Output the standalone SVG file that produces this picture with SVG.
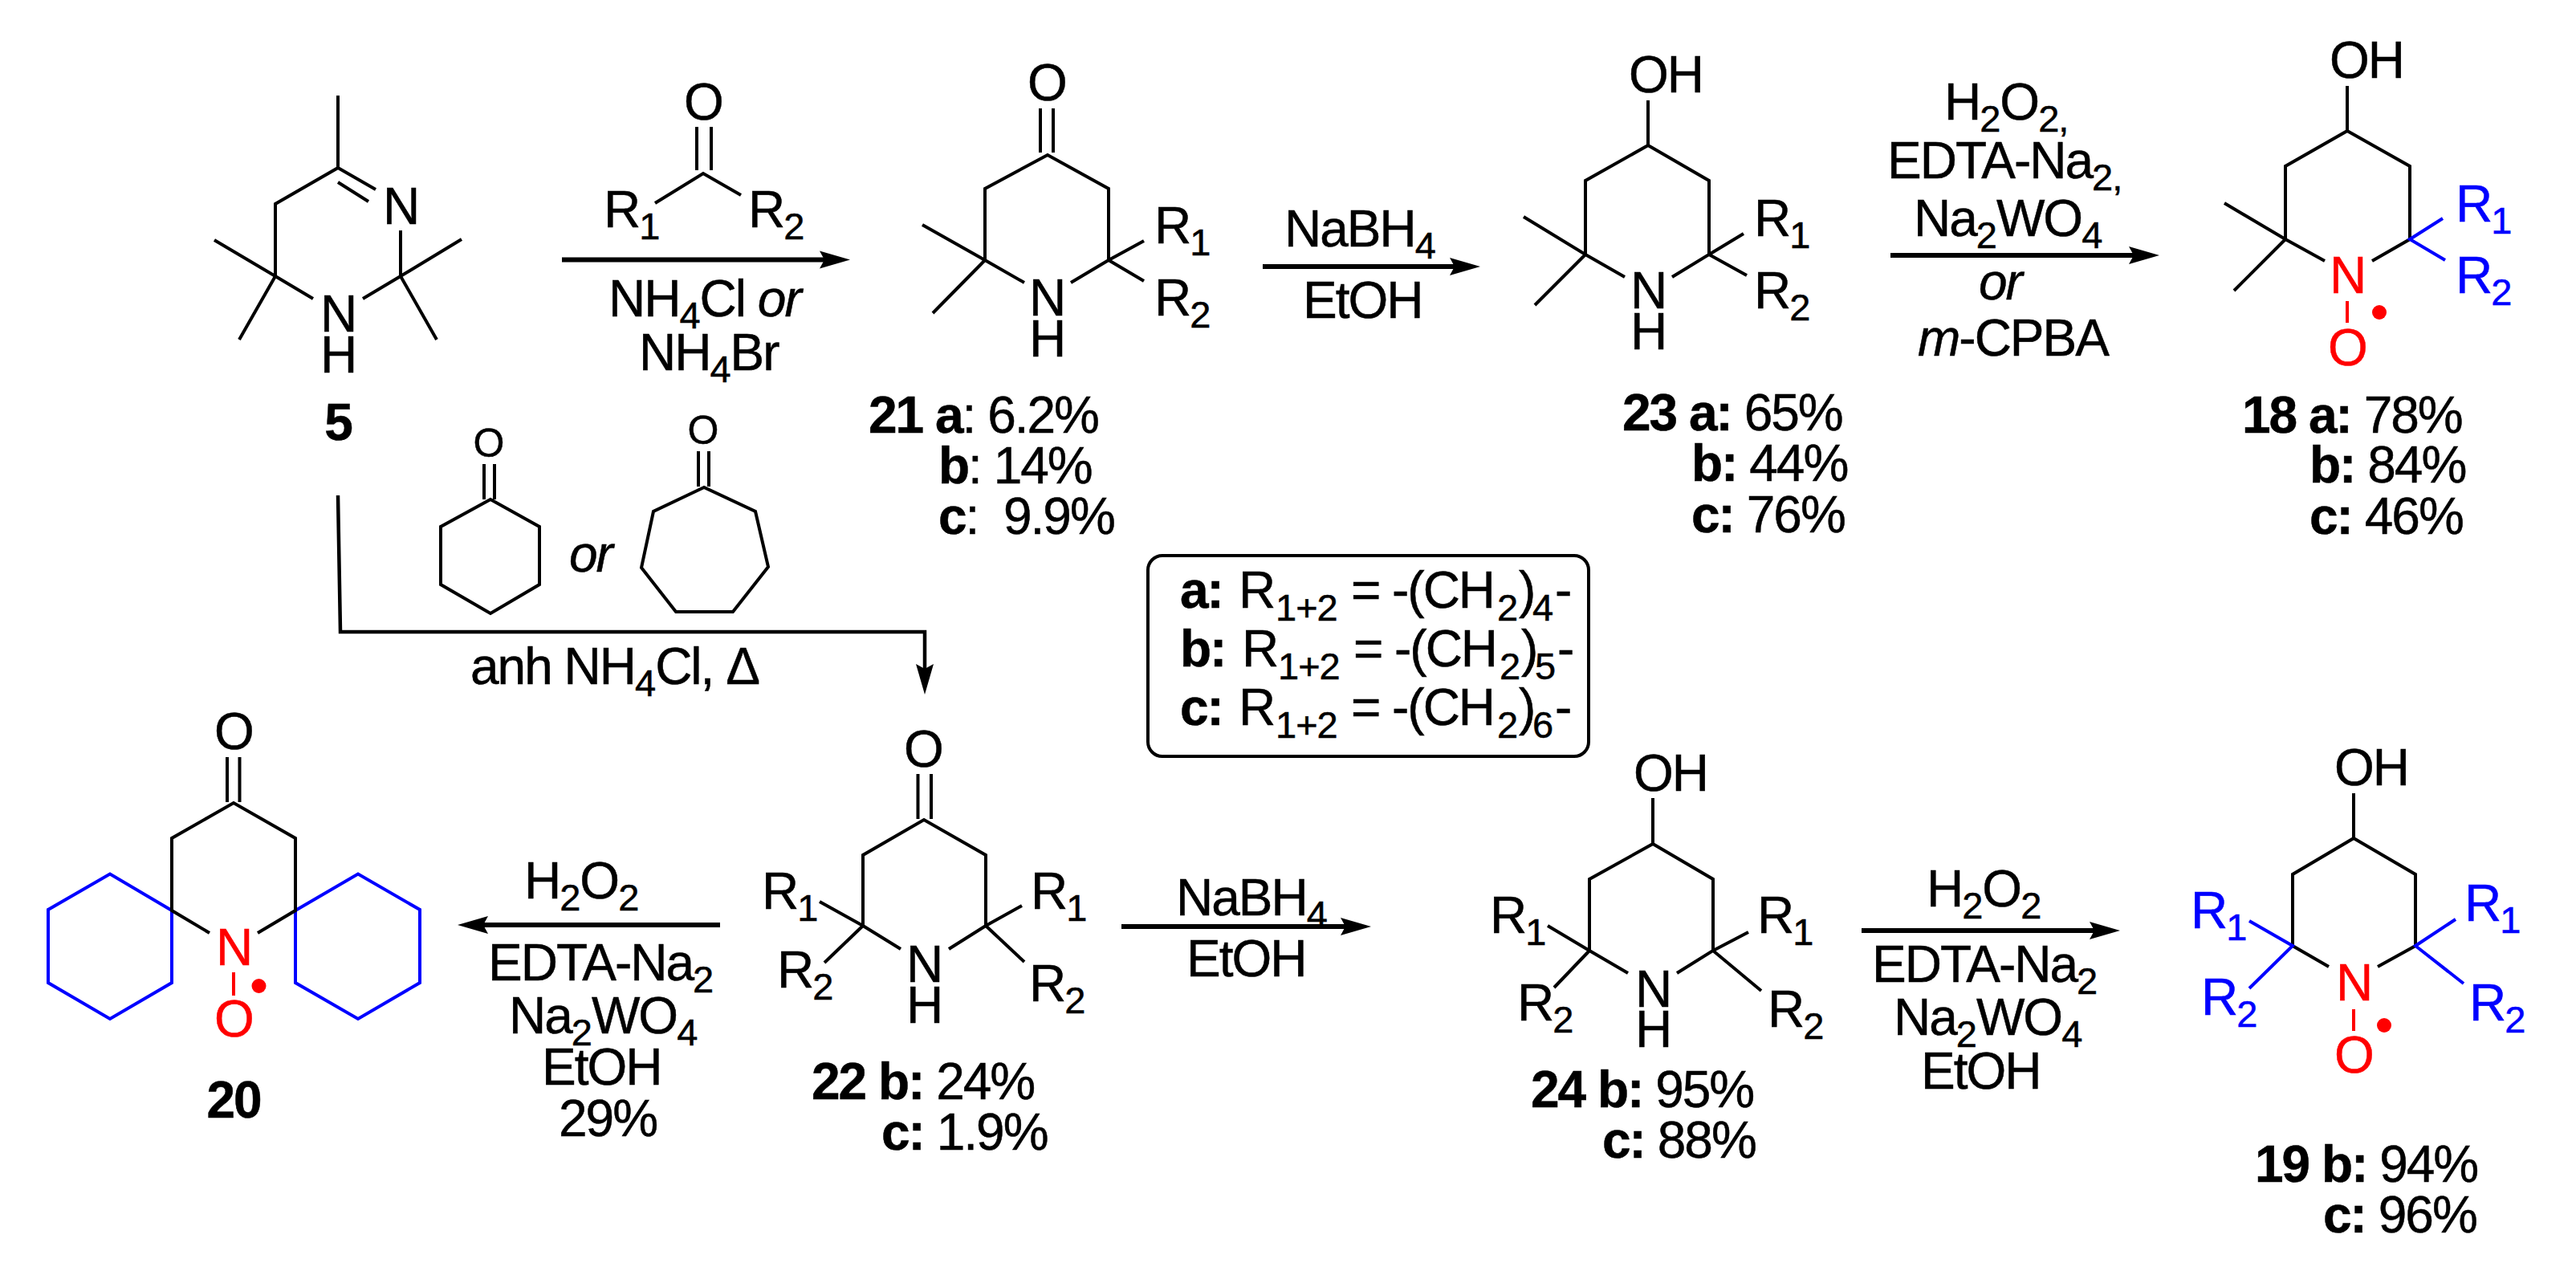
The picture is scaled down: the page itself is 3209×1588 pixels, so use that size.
<svg xmlns="http://www.w3.org/2000/svg" width="3209" height="1588" viewBox="0 0 3209 1588">
<style>
text{font-family:"Liberation Sans",Arial,sans-serif;font-size:64px;letter-spacing:-2px;fill:#000;stroke:#000;stroke-width:.5}
.sm{font-size:50px;letter-spacing:0}
.b{font-weight:bold}
.m{text-anchor:middle}
.s{font-size:47px;letter-spacing:-1px}
.i{font-style:italic}
.blue{fill:#0000ff;stroke:#0000ff}
.red{fill:#ff0000;stroke:#ff0000}
.bd{fill:none;stroke:#000;stroke-width:4;stroke-linejoin:miter;stroke-linecap:butt}
.bb{fill:none;stroke:#0000ff;stroke-width:4}
.br{fill:none;stroke:#ff0000;stroke-width:4}
.ar{fill:none;stroke:#000;stroke-width:6}
.ar2{fill:none;stroke:#000;stroke-width:4.5}
.box{fill:none;stroke:#000;stroke-width:4}
</style>
<defs>
<marker id="h" markerUnits="userSpaceOnUse" viewBox="0 -12 40 24" markerWidth="40" markerHeight="24" refX="6" refY="0" orient="auto"><path d="M0-11L38 0L0 11L6 0z" fill="#000"/></marker>
</defs>
<g id="connectors">
<path class="ar" d="M700 323.500H1027" marker-end="url(#h)"/>
<path class="ar" d="M1573 332H1812" marker-end="url(#h)"/>
<path class="ar" d="M2355 318H2658" marker-end="url(#h)"/>
<path class="ar" d="M897 1152H602" marker-end="url(#h)"/>
<path class="ar" d="M1397 1154H1676" marker-end="url(#h)"/>
<path class="ar" d="M2319 1159H2609" marker-end="url(#h)"/>
<path class="ar2" d="M421 617L424 787H1152V833" marker-end="url(#h)"/>
</g>
<g id="mol-5">
<path class="bd" d="M421 119V209L343 254V344L267 299M343 344L298 423M343 344L390 372M421 209L468 236M421 227L459 251M499 287V344L575 298M499 344L544 423M499 344L452 372"/>
<text class="m" x="499" y="279">N</text>
<text class="m" x="421" y="413">N</text>
<text class="m" x="421" y="464">H</text>
<text class="b m" x="421" y="548">5</text>
</g>
<g id="reagent-ketone">
<path class="bd" d="M868 158V212M886 158V212M816 253L876 216L923 243"/>
<text class="m" x="876" y="149">O</text>
<text x="752" y="283">R<tspan class="s" dy="15">1</tspan></text>
<text x="932" y="283">R<tspan class="s" dy="15">2</tspan></text>
</g>
<g id="reagent-nh4">
<text x="758" y="394">NH<tspan class="s" dy="15">4</tspan><tspan dy="-15">Cl </tspan><tspan class="i">or</tspan></text>
<text x="796" y="461">NH<tspan class="s" dy="15">4</tspan><tspan dy="-15">Br</tspan></text>
</g>
<g id="mol-21">
<path class="bd" d="M1296 135V190M1312 135V190M1227 324V235L1305 193L1381 235V324M1227 324L1149 280M1227 324L1162 390M1227 324L1276 352M1381 324L1334 352M1381 324L1425 300M1381 324L1425 350"/>
<text class="m" x="1304" y="125">O</text>
<text class="m" x="1304" y="393">N</text>
<text class="m" x="1304" y="444">H</text>
<text x="1438" y="303">R<tspan class="s" dy="15">1</tspan></text>
<text x="1438" y="393">R<tspan class="s" dy="15">2</tspan></text>
<text x="1082" y="539"><tspan class="b">21 a</tspan>: 6.2%</text>
<text x="1169" y="602"><tspan class="b">b</tspan>: 14%</text>
<text x="1169" y="665" xml:space="preserve"><tspan class="b">c</tspan>:  9.9%</text>
</g>
<g id="reagent-nabh4-1">
<text x="1600" y="307">NaBH<tspan class="s" dy="15">4</tspan></text>
<text x="1623" y="396">EtOH</text>
</g>
<g id="mol-23">
<path class="bd" d="M2053 125V181L1975 225V317L1898 270M1975 317L1912 380M1975 317L2024 345M2053 181L2129 225V317L2083 345M2129 317L2172 291M2129 317L2176 343"/>
<text class="m" x="2075" y="115">OH</text>
<text class="m" x="2053" y="384">N</text>
<text class="m" x="2053" y="435">H</text>
<text x="2185" y="294">R<tspan class="s" dy="15">1</tspan></text>
<text x="2185" y="384">R<tspan class="s" dy="15">2</tspan></text>
<text x="2021" y="536"><tspan class="b">23 a:</tspan> 65%</text>
<text x="2107" y="599"><tspan class="b">b:</tspan> 44%</text>
<text x="2107" y="663"><tspan class="b">c:</tspan> 76%</text>
</g>
<g id="reagent-oxidant-1">
<text x="2422" y="149">H<tspan class="s" dy="15">2</tspan><tspan dy="-15">O</tspan><tspan class="s" dy="15">2,</tspan></text>
<text x="2351" y="222">EDTA-Na<tspan class="s" dy="15">2,</tspan></text>
<text x="2384" y="294">Na<tspan class="s" dy="15">2</tspan><tspan dy="-15">WO</tspan><tspan class="s" dy="15">4</tspan></text>
<text class="i" x="2465" y="373">or</text>
<text x="2389" y="443"><tspan class="i">m</tspan>-CPBA</text>
</g>
<g id="mol-18">
<path class="bd" d="M2924 107V163L2847 207V298L2771 253M2847 298L2783 362M2847 298L2896 325M2924 163L3002 207V298L2955 325"/>
<path class="bb" d="M3043 272L3002 298L3046 324"/>
<path class="br" d="M2924 375V402"/>
<circle cx="2964" cy="389" r="9" fill="#ff0000"/>
<text class="m" x="2948" y="97">OH</text>
<text class="m red" x="2924" y="365">N</text>
<text class="m red" x="2924" y="455">O</text>
<text class="blue" x="3059" y="276">R<tspan class="s" dy="15">1</tspan></text>
<text class="blue" x="3059" y="365">R<tspan class="s" dy="15">2</tspan></text>
<text x="2793" y="539"><tspan class="b">18 a:</tspan> 78%</text>
<text x="2877" y="601"><tspan class="b">b:</tspan> 84%</text>
<text x="2877" y="665"><tspan class="b">c:</tspan> 46%</text>
</g>
<g id="reagent-cyclohexanone">
<path class="bd" d="M603 578V622M616 578V622M611 622L549 656V728L611 764L672 728V656Z"/>
<text class="sm m" x="609" y="569">O</text>
</g>
<text id="or-label" class="i" x="709" y="712">or</text>
<g id="reagent-cycloheptanone">
<path class="bd" d="M870 562V606M883 562V606M877 607L814 637L799 707L842 762H913L957 706L941 637Z"/>
<text class="sm m" x="876" y="553">O</text>
</g>
<text id="anh-label" x="586" y="852">anh NH<tspan class="s" dy="15">4</tspan><tspan dy="-15">Cl, Δ</tspan></text>
<g id="legend">
<rect class="box" x="1430" y="692" width="549" height="250" rx="18"/>
<text y="757"><tspan class="b" x="1470">a:</tspan><tspan x="1543">R</tspan><tspan class="s" x="1589" dy="16">1+2</tspan><tspan x="1683" dy="-16">=</tspan><tspan x="1734">-(CH</tspan><tspan class="s" x="1865" dy="16">2</tspan><tspan x="1892" dy="-16">)</tspan><tspan class="s" x="1909" dy="16">4</tspan><tspan x="1937" dy="-16">-</tspan></text>
<text y="830"><tspan class="b" x="1470">b:</tspan><tspan x="1547">R</tspan><tspan class="s" x="1592" dy="16">1+2</tspan><tspan x="1686" dy="-16">=</tspan><tspan x="1737">-(CH</tspan><tspan class="s" x="1868" dy="16">2</tspan><tspan x="1895" dy="-16">)</tspan><tspan class="s" x="1912" dy="16">5</tspan><tspan x="1940" dy="-16">-</tspan></text>
<text y="903"><tspan class="b" x="1470">c:</tspan><tspan x="1543">R</tspan><tspan class="s" x="1589" dy="16">1+2</tspan><tspan x="1683" dy="-16">=</tspan><tspan x="1734">-(CH</tspan><tspan class="s" x="1865" dy="16">2</tspan><tspan x="1892" dy="-16">)</tspan><tspan class="s" x="1909" dy="16">6</tspan><tspan x="1937" dy="-16">-</tspan></text>
</g>
<g id="mol-22">
<path class="bd" d="M1143.500 964V1020M1160 964V1020M1075 1153V1065L1151 1021L1228 1065V1153M1075 1153L1021 1123M1075 1153L1027 1199M1075 1153L1122 1182M1228 1153L1182 1182M1228 1153L1273 1128M1228 1153L1276 1198"/>
<text class="m" x="1150" y="955">O</text>
<text class="m" x="1151" y="1223">N</text>
<text class="m" x="1151" y="1274">H</text>
<text x="949" y="1132">R<tspan class="s" dy="15">1</tspan></text>
<text x="968" y="1230">R<tspan class="s" dy="15">2</tspan></text>
<text x="1284" y="1132">R<tspan class="s" dy="15">1</tspan></text>
<text x="1282" y="1247">R<tspan class="s" dy="15">2</tspan></text>
<text x="1011" y="1369"><tspan class="b">22 b:</tspan> 24%</text>
<text x="1098" y="1432"><tspan class="b">c:</tspan> 1.9%</text>
</g>
<g id="reagent-oxidant-3">
<text x="653" y="1119">H<tspan class="s" dy="15">2</tspan><tspan dy="-15">O</tspan><tspan class="s" dy="15">2</tspan></text>
<text x="608" y="1221">EDTA-Na<tspan class="s" dy="15">2</tspan></text>
<text x="634" y="1287">Na<tspan class="s" dy="15">2</tspan><tspan dy="-15">WO</tspan><tspan class="s" dy="15">4</tspan></text>
<text x="675" y="1351">EtOH</text>
<text x="696" y="1415">29%</text>
</g>
<g id="mol-20">
<path class="bb" d="M214 1134L137 1088.500L60 1133V1224L137 1269L214 1224ZM368 1134L446 1088.500L523 1133V1224L446 1269L368 1224Z"/>
<path class="bd" d="M283 943V999M298.500 943V999M261 1162L214 1134V1044L291 1000L368 1044V1134L321 1162"/>
<path class="br" d="M291 1211V1240"/>
<circle cx="322.500" cy="1228" r="9" fill="#ff0000"/>
<text class="m" x="291" y="933">O</text>
<text class="m red" x="291" y="1202">N</text>
<text class="m red" x="291" y="1291">O</text>
<text class="b m" x="291" y="1392">20</text>
</g>
<g id="reagent-nabh4-2">
<text x="1465" y="1140">NaBH<tspan class="s" dy="15">4</tspan></text>
<text x="1478" y="1216">EtOH</text>
</g>
<g id="mol-24">
<path class="bd" d="M2059 994V1051L1980 1095V1184L1928 1153M1980 1184L1936 1230M1980 1184L2028 1212M2059 1051L2134 1095V1184L2089 1212M2134 1184L2178 1161M2134 1184L2194 1234"/>
<text class="m" x="2081" y="985">OH</text>
<text class="m" x="2059" y="1254">N</text>
<text class="m" x="2059" y="1304">H</text>
<text x="1856" y="1162">R<tspan class="s" dy="15">1</tspan></text>
<text x="1890" y="1271">R<tspan class="s" dy="15">2</tspan></text>
<text x="2189" y="1162">R<tspan class="s" dy="15">1</tspan></text>
<text x="2202" y="1279">R<tspan class="s" dy="15">2</tspan></text>
<text x="1907" y="1379"><tspan class="b">24 b:</tspan> 95%</text>
<text x="1996" y="1442"><tspan class="b">c:</tspan> 88%</text>
</g>
<g id="reagent-oxidant-2">
<text x="2400" y="1129">H<tspan class="s" dy="15">2</tspan><tspan dy="-15">O</tspan><tspan class="s" dy="15">2</tspan></text>
<text x="2332" y="1223">EDTA-Na<tspan class="s" dy="15">2</tspan></text>
<text x="2359" y="1289">Na<tspan class="s" dy="15">2</tspan><tspan dy="-15">WO</tspan><tspan class="s" dy="15">4</tspan></text>
<text x="2393" y="1356">EtOH</text>
</g>
<g id="mol-19">
<path class="bd" d="M2932 988V1044L2856 1089V1178L2901 1204M2932 1044L3009 1089V1178L2962 1204"/>
<path class="bb" d="M2802 1147L2856 1178L2802 1231M3059 1145L3009 1178L3069 1225"/>
<path class="br" d="M2932 1257V1284"/>
<circle cx="2970" cy="1277" r="9" fill="#ff0000"/>
<text class="m" x="2954" y="978">OH</text>
<text class="m red" x="2932" y="1246">N</text>
<text class="m red" x="2932" y="1336">O</text>
<text class="blue" x="2729" y="1156">R<tspan class="s" dy="15">1</tspan></text>
<text class="blue" x="2742" y="1264">R<tspan class="s" dy="15">2</tspan></text>
<text class="blue" x="3070" y="1147">R<tspan class="s" dy="15">1</tspan></text>
<text class="blue" x="3076" y="1271">R<tspan class="s" dy="15">2</tspan></text>
<text x="2809" y="1472"><tspan class="b">19 b:</tspan> 94%</text>
<text x="2894" y="1535"><tspan class="b">c:</tspan> 96%</text>
</g>
</svg>
